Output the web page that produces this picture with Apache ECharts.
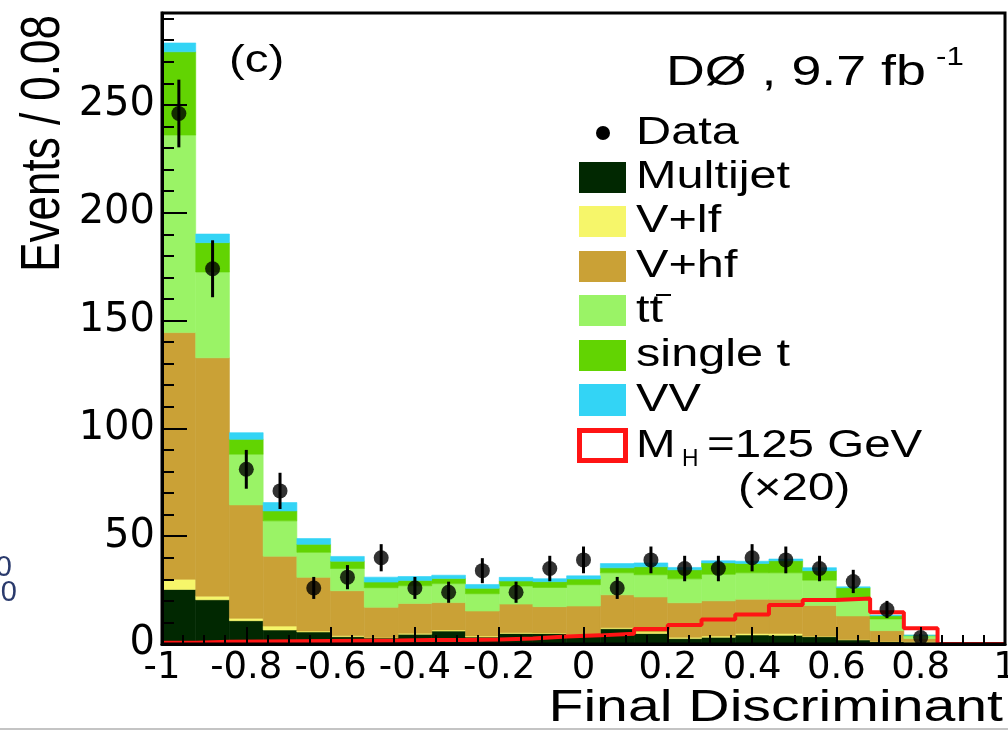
<!DOCTYPE html>
<html>
<head>
<meta charset="utf-8">
<script src="https://cdn.jsdelivr.net/npm/echarts@6/dist/echarts.min.js"></script>
<style>
  html, body { margin: 0; padding: 0; background: #ffffff; }
  #chart { width: 1008px; height: 730px; }
</style>
</head>
<body>
<div id="chart"></div>
<script>
// Final discriminant, 25 bins of width 0.08 from -1 to 1
const binLow = [-1, -0.92, -0.84, -0.76, -0.68, -0.6, -0.52, -0.44, -0.36, -0.28, -0.2, -0.12, -0.04,
                0.04, 0.12, 0.2, 0.28, 0.36, 0.44, 0.52, 0.6, 0.68, 0.76, 0.84, 0.92];
const binWidth = 0.08;

// Background expectations per bin (events), stacked bottom to top
const multijet  = [25.3, 20.5, 10.8, 6.5, 5.6, 3.4, 2.8, 4.5, 6.0, 3.2, 4.9, 4.9, 4.2, 7.1, 4.9, 2.5, 3.1, 4.2, 4.0, 3.4, 1.9, 1.1, 0.8, 0, 0];
const vLf       = [4.7, 1.7, 1.1, 1.8, 0.4, 0.4, 0.2, 0.5, 0.5, 0.5, 0.3, 0.2, 0.2, 0.4, 0.7, 0.6, 0.6, 0.7, 0.9, 0.2, 0.2, 0.1, 0.2, 0, 0];
const vHf       = [114.4, 110.5, 52.6, 32.4, 24.9, 20.9, 14.0, 13.8, 12.7, 11.6, 13.3, 12.2, 13.2, 15.3, 16.2, 16.0, 16.3, 15.9, 15.8, 14.3, 10.9, 5.0, 1.5, 0, 0];
const ttbar     = [91.6, 39.8, 23.5, 16.4, 11.6, 10.3, 9.1, 8.2, 8.8, 8.0, 8.4, 8.9, 9.9, 10.2, 10.3, 11.1, 12.3, 12.2, 12.3, 11.7, 7.4, 5.4, 1.3, 0, 0];
const singleTop = [38.6, 13.6, 6.9, 4.6, 3.7, 3.4, 2.6, 2.5, 2.4, 2.5, 2.3, 2.7, 2.6, 2.3, 3.7, 4.2, 5.3, 4.3, 5.6, 4.4, 5.7, 1.5, 0.2, 0, 0];
const diboson   = [4.1, 4.0, 3.1, 3.9, 2.7, 2.2, 2.3, 1.8, 1.5, 1.8, 1.7, 1.4, 1.5, 2.0, 1.8, 1.1, 1.0, 1.1, 0.8, 1.4, 0.4, 0.3, 0.1, 0, 0];

// Signal, MH = 125 GeV, scaled by 20
const higgsX20  = [0.6, 1.0, 1.2, 1.3, 1.4, 1.5, 1.6, 1.8, 1.9, 2.1, 2.6, 3.5, 4.0, 4.7, 6.9, 8.8, 11.4, 13.7, 18.1, 20.4, 21.1, 14.7, 7.3, 0, 0];

// Observed events and their uncertainties (empty bins are not drawn)
const dataCounts = [246, 174, 81, 71, 26, 31, 40, 26, 24, 34, 24, 35, 39, 26, 39, 35, 35, 40, 39, 35, 29, 16, 3, null, null];
const dataErrors = [15.7, 13.2, 9.0, 8.4, 5.1, 5.6, 6.3, 5.1, 4.9, 5.8, 4.9, 5.9, 6.2, 5.1, 6.2, 5.9, 5.9, 6.3, 6.2, 5.9, 5.4, 4.0, 1.7, null, null];

// Tick labels
const xTickLabels = ['-1', '-0.8', '-0.6', '-0.4', '-0.2', '0', '0.2', '0.4', '0.6', '0.8', '1'];
const yTickLabels = ['0', '50', '100', '150', '200', '250'];
const yMax = 292.6;

const components = [
  { name: 'Multijet', values: multijet,  color: '#012801' },
  { name: 'V+lf',     values: vLf,       color: '#f6f66a' },
  { name: 'V+hf',     values: vHf,       color: '#caa136' },
  { name: 'ttbar',    values: ttbar,     color: '#9af366' },
  { name: 'single t', values: singleTop, color: '#62d402' },
  { name: 'VV',       values: diboson,   color: '#33d4f5' }
];

const SANS = '"Liberation Sans", Arial, sans-serif';
const AXIS_FONT = '"DejaVu Sans", sans-serif';

// Cumulative stack: each item is [low edge, high edge, base, top]
const running = binLow.map(() => 0);
const stackSeries = components.map(c => {
  const items = binLow.map((lo, i) => {
    const base = running[i];
    const top = base + c.values[i];
    running[i] = top;
    return [lo, lo + binWidth, base, top];
  });
  return {
    type: 'custom',
    name: c.name,
    data: items,
    encode: { x: [0, 1], y: [2, 3] },
    silent: true,
    z: 2,
    renderItem: (params, api) => {
      if (api.value(3) <= api.value(2)) return null;
      const a = api.coord([api.value(0), api.value(3)]);
      const b = api.coord([api.value(1), api.value(2)]);
      return {
        type: 'rect',
        shape: { x: a[0], y: a[1], width: b[0] - a[0], height: b[1] - a[1] },
        style: { fill: c.color, stroke: c.color, lineWidth: 0.6 }
      };
    }
  };
});

const signalSteps = binLow.map((lo, i) => [lo, higgsX20[i]]).concat([[1, higgsX20[higgsX20.length - 1]]]);

const dataPoints = binLow.map((lo, i) => [lo + binWidth / 2, dataCounts[i], dataErrors[i]])
                         .filter(d => d[1] !== null);

const chart = echarts.init(document.getElementById('chart'), null, { renderer: 'canvas' });

const tickLine = { color: '#000', width: 2 };

function legendText(x, y, text, extra) {
  return Object.assign({
    type: 'text', x: x, y: y, scaleX: 1.28, z: 20,
    style: { text: text, fontSize: 38, fontFamily: SANS, fill: '#000', verticalAlign: 'middle' }
  }, extra || {});
}

chart.setOption({
  animation: false,
  backgroundColor: '#ffffff',
  grid: {
    left: 162, right: 3, top: 13, bottom: 86,
    containLabel: false, outerBoundsMode: 'none',
    show: true, borderColor: '#000', borderWidth: 3, backgroundColor: 'transparent', z: 10
  },
  xAxis: [{
    type: 'value', min: -1, max: 1, interval: 0.2, z: 10,
    axisLine: { show: true, onZero: false, lineStyle: { color: '#000', width: 3 } },
    axisTick: { show: true, inside: true, length: 17, lineStyle: tickLine },
    minorTick: { show: true, splitNumber: 4, length: 9, lineStyle: tickLine },
    splitLine: { show: false },
    minorSplitLine: { show: false },
    axisLabel: {
      color: '#000', fontSize: 37, fontFamily: AXIS_FONT, margin: 6, hideOverlap: false,
      formatter: v => xTickLabels[Math.round((v + 1) / 0.2)] || ''
    }
  }],
  yAxis: [{
    // major ticks and labels every 50
    type: 'value', min: 0, max: yMax, interval: 50, position: 'left', z: 10,
    axisLine: { show: true, onZero: false, lineStyle: { color: '#000', width: 3 } },
    axisTick: { show: true, inside: true, length: 25, lineStyle: tickLine },
    splitLine: { show: false },
    axisLabel: {
      color: '#000', fontSize: 40, fontFamily: AXIS_FONT, margin: 7, showMaxLabel: false,
      formatter: v => yTickLabels[Math.round(v / 50)] || ''
    }
  }, {
    // minor ticks every 10
    type: 'value', min: 0, max: yMax, interval: 10, position: 'left', z: 10,
    axisLine: { show: false, onZero: false },
    axisTick: { show: true, inside: true, length: 12, lineStyle: tickLine },
    splitLine: { show: false },
    axisLabel: { show: false }
  }],
  series: stackSeries.concat([
    {
      type: 'line', name: 'MH=125 GeV (x20)', data: signalSteps, step: 'end',
      showSymbol: false, silent: true, z: 3,
      lineStyle: { color: '#ff1414', width: 4 }
    },
    {
      type: 'custom', name: 'Data errors', data: dataPoints, silent: true, z: 4,
      encode: { x: 0, y: 1 },
      renderItem: (params, api) => {
        const x = api.value(0), v = api.value(1), e = api.value(2);
        const p0 = api.coord([x, v - e]);
        const p1 = api.coord([x, v + e]);
        return {
          type: 'line',
          shape: { x1: p0[0], y1: p0[1], x2: p1[0], y2: p1[1] },
          style: { stroke: '#000', lineWidth: 3 }
        };
      }
    },
    {
      type: 'scatter', name: 'Data', data: dataPoints, silent: true, z: 5,
      symbol: 'circle', symbolSize: 15,
      itemStyle: { color: '#000' }
    }
  ]),
  graphic: [
    // Axis titles
    { type: 'text', x: 44, y: 15, rotation: Math.PI / 2, scaleY: 1.25, z: 20,
      style: { text: 'Events / 0.08', fontSize: 44, fontFamily: SANS, fill: '#000', align: 'right', verticalAlign: 'middle' } },
    { type: 'text', x: 1003, y: 709, scaleX: 1.3, z: 20,
      style: { text: 'Final Discriminant', fontSize: 44, fontFamily: SANS, fill: '#000', align: 'right', verticalAlign: 'middle' } },
    // Panel tag and luminosity
    { type: 'text', x: 229, y: 62, scaleX: 1.25, z: 20,
      style: { text: '(c)', fontSize: 38, fontFamily: SANS, fill: '#000', align: 'left', verticalAlign: 'middle' } },
    { type: 'text', x: 666, y: 73, scaleX: 1.25, z: 20,
      style: { text: 'DØ , 9.7 fb', fontSize: 43, fontFamily: SANS, fill: '#000', align: 'left', verticalAlign: 'middle' } },
    { type: 'text', x: 936, y: 58, scaleX: 1.2, z: 20,
      style: { text: '-1', fontSize: 26, fontFamily: SANS, fill: '#000', align: 'left', verticalAlign: 'middle' } },

    // Legend
    { type: 'circle', shape: { cx: 603, cy: 133, r: 7 }, style: { fill: '#000' }, z: 20 },
    legendText(636, 134, 'Data'),
    { type: 'rect', shape: { x: 579, y: 162, width: 47, height: 31 }, style: { fill: components[0].color }, z: 20 },
    legendText(636, 178, 'Multijet'),
    { type: 'rect', shape: { x: 579, y: 206, width: 47, height: 31 }, style: { fill: components[1].color }, z: 20 },
    legendText(636, 222, 'V+lf'),
    { type: 'rect', shape: { x: 579, y: 251, width: 47, height: 31 }, style: { fill: components[2].color }, z: 20 },
    legendText(636, 267, 'V+hf'),
    { type: 'rect', shape: { x: 579, y: 295, width: 47, height: 31 }, style: { fill: components[3].color }, z: 20 },
    legendText(636, 312, 'tt'),
    { type: 'line', shape: { x1: 656, y1: 295, x2: 671, y2: 295 }, style: { stroke: '#000', lineWidth: 2 }, z: 20 },
    { type: 'rect', shape: { x: 579, y: 340, width: 47, height: 31 }, style: { fill: components[4].color }, z: 20 },
    legendText(636, 356, 'single t'),
    { type: 'rect', shape: { x: 579, y: 384, width: 47, height: 32 }, style: { fill: components[5].color }, z: 20 },
    legendText(636, 401, 'VV'),
    { type: 'rect', shape: { x: 579.5, y: 430.5, width: 46, height: 30 }, style: { fill: '#fff', stroke: '#ff1414', lineWidth: 5 }, z: 20 },
    legendText(636, 447, 'M', { scaleX: 1.25 }),
    { type: 'text', x: 682, y: 459, scaleX: 0.95, z: 20,
      style: { text: 'H', fontSize: 24, fontFamily: SANS, fill: '#000', verticalAlign: 'middle' } },
    legendText(707, 447, '=125 GeV', { scaleX: 1.25 }),
    legendText(738, 490, '(×20)', { scaleX: 1.25 }),

    // Neighbouring panel labels at the left edge
    { type: 'text', x: 12, y: 568, z: 20,
      style: { text: '0', fontSize: 29, fontFamily: SANS, fill: '#2a3a6c', align: 'right', verticalAlign: 'middle' } },
    { type: 'text', x: 17, y: 593, z: 20,
      style: { text: '00', fontSize: 29, fontFamily: SANS, fill: '#2a3a6c', align: 'right', verticalAlign: 'middle' } },
    // page edge below the panel
    { type: 'line', shape: { x1: 0, y1: 729, x2: 1008, y2: 729 }, style: { stroke: '#c4c4c4', lineWidth: 2 }, z: 20 }
  ]
});
</script>
</body>
</html>
